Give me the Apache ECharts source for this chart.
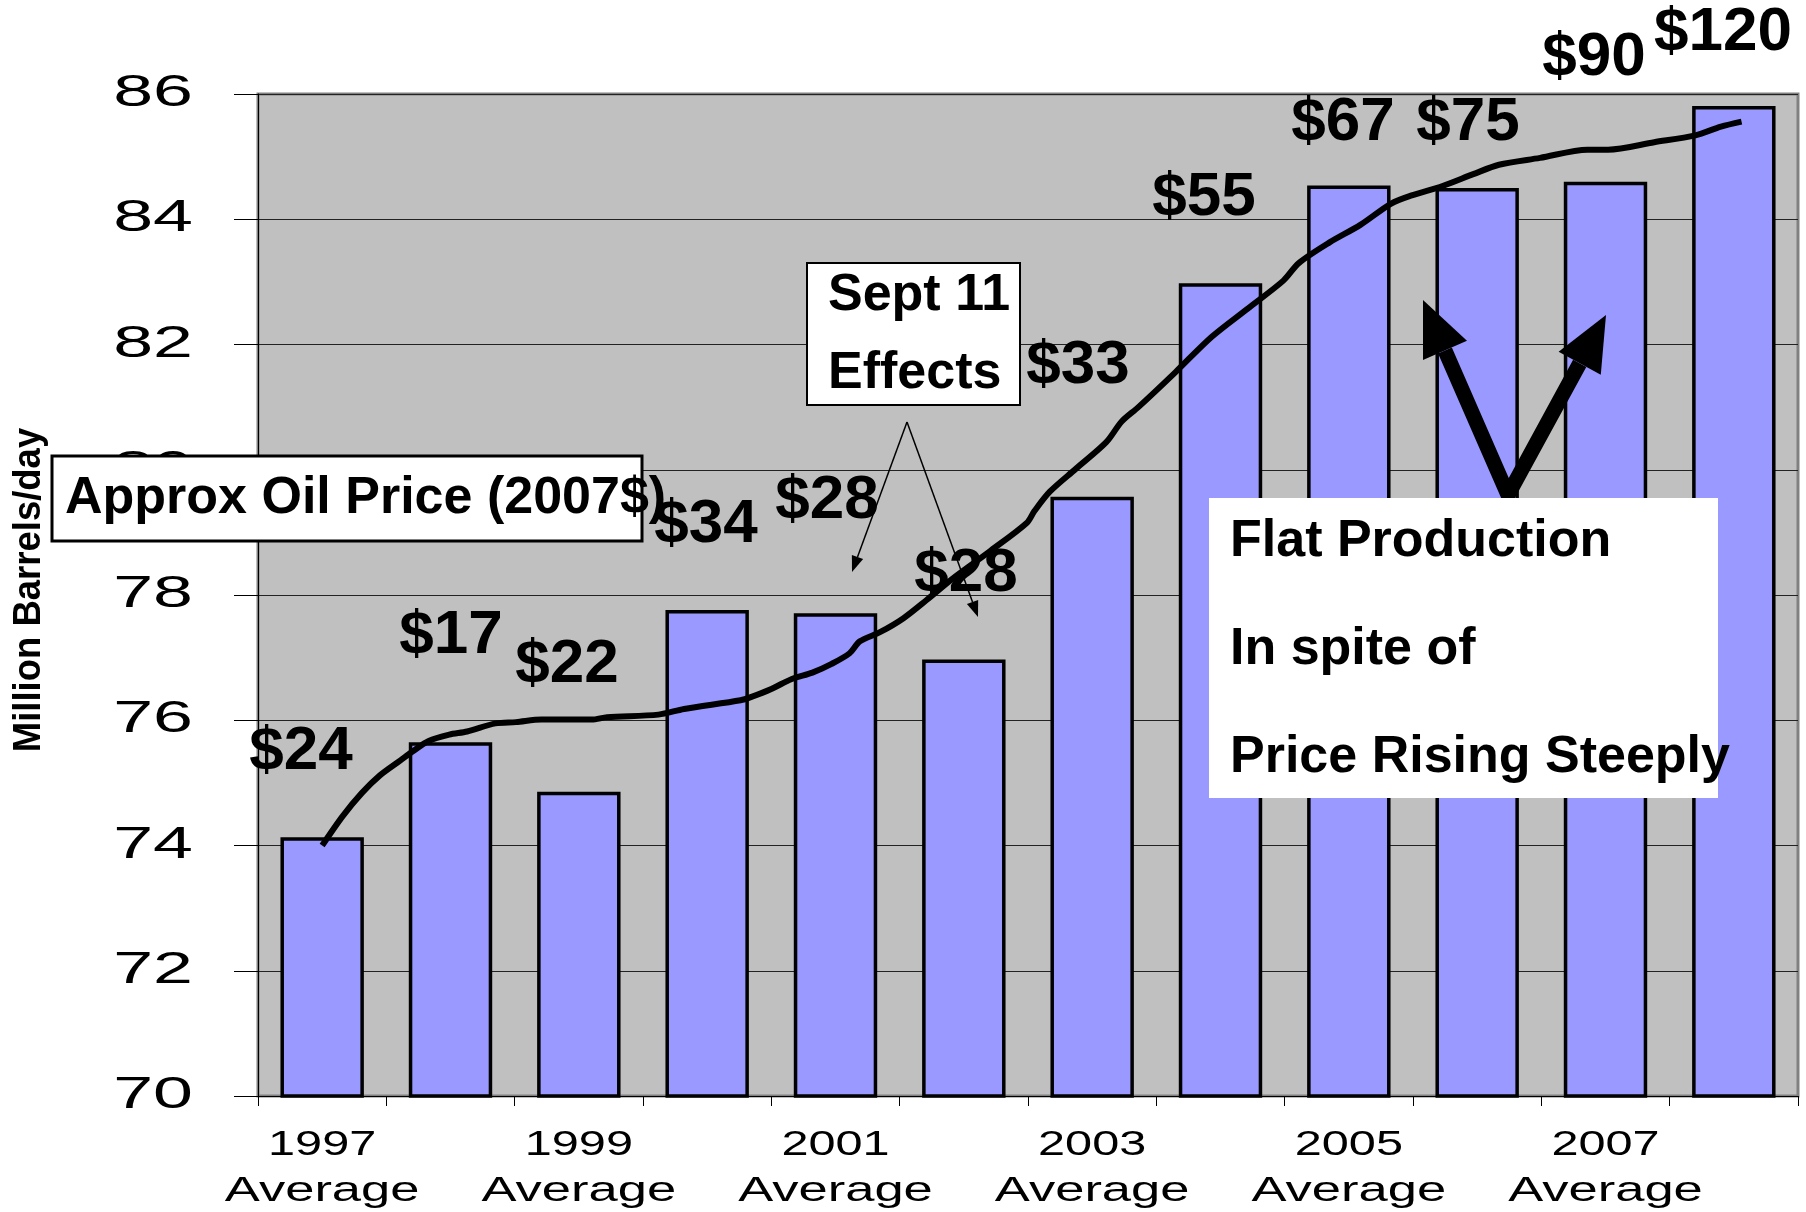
<!DOCTYPE html>
<html>
<head>
<meta charset="utf-8">
<title>World oil production</title>
<script src="https://cdn.jsdelivr.net/npm/echarts@6/dist/echarts.min.js"></script>
<style>
  html, body { margin: 0; padding: 0; background: #fff; }
  #chart { width: 1806px; height: 1212px; }
</style>
</head>
<body>
<div id="chart"></div>
<script>
// yearly averages, million barrels/day
const years = ['1997', '1998', '1999', '2000', '2001', '2002', '2003', '2004', '2005', '2006', '2007', '2008'];
const production = [74.13, 75.65, 74.86, 77.76, 77.71, 76.97, 79.57, 82.98, 84.54, 84.50, 84.60, 85.81];
const prices = ['$24', '$17', '$22', '$34', '$28', '$28', '$33', '$55', '$67', '$75', '$90', '$120'];

// running trend line (position in years from 1997, value)
const trendPos = [0, 0.16, 0.31, 0.45, 0.61, 0.71, 0.83, 0.99, 1.13, 1.35, 1.51, 1.71, 2.10, 2.22, 2.62, 2.82,
  3.26, 3.34, 3.50, 3.66, 3.82, 3.97, 4.11, 4.19, 4.35, 4.53, 4.71, 4.93, 5.21, 5.49, 5.55, 5.67, 5.87,
  6.11, 6.23, 6.36, 6.65, 6.93, 7.21, 7.49, 7.61, 7.85, 8.09, 8.33, 8.49, 8.73, 8.97, 9.17, 9.49, 9.86,
  10.02, 10.38, 10.70, 10.90, 11.06];
const trendVal = [74.0, 74.47, 74.84, 75.12, 75.36, 75.51, 75.67, 75.77, 75.82, 75.95, 75.97, 76.01, 76.01, 76.05, 76.09, 76.18,
  76.32, 76.37, 76.50, 76.66, 76.76, 76.90, 77.07, 77.26, 77.41, 77.63, 77.92, 78.29, 78.71, 79.15, 79.34, 79.65, 80.01,
  80.44, 80.77, 81.0, 81.56, 82.12, 82.57, 83.02, 83.30, 83.63, 83.91, 84.25, 84.38, 84.53, 84.72, 84.87, 84.98, 85.11,
  85.11, 85.23, 85.34, 85.48, 85.56];

const yTicks = [70, 72, 74, 76, 78, 80, 82, 84, 86];
const xTickYears = ['1997', '1999', '2001', '2003', '2005', '2007'];

// where the price labels sit (px)
const priceAt = [[301, 752], [451, 636], [567, 665], [706, 525], [827, 501], [966, 574],
  [1078, 366], [1204, 198], [1343, 123], [1468, 123], [1594, 58], [1723, 33]];

const FONT = '"Liberation Sans", Arial, sans-serif';

const chart = echarts.init(document.getElementById('chart'));

chart.setOption({
  animation: false,
  backgroundColor: '#fff',
  grid: {
    left: 258,
    right: 8,
    top: 94,
    bottom: 116,
    show: true,
    backgroundColor: '#C0C0C0',
    borderColor: '#808080',
    borderWidth: 3
  },
  xAxis: [
    {
      type: 'category',
      data: years,
      axisLine: { onZero: false, lineStyle: { color: '#000', width: 1 } },
      axisTick: { show: true, length: 10, interval: 0, lineStyle: { color: '#000' } },
      axisLabel: { show: false },
      splitLine: { show: false }
    },
    {
      // hidden, only to place the trend line between the bars
      type: 'value',
      min: -0.5,
      max: 11.5,
      show: false
    }
  ],
  yAxis: {
    type: 'value',
    min: 70,
    max: 86,
    interval: 2,
    axisLine: { show: true, onZero: false, lineStyle: { color: '#000', width: 1 } },
    axisTick: { show: true, length: 24, lineStyle: { color: '#000' } },
    axisLabel: { show: false },
    splitLine: { lineStyle: { color: '#222', width: 1 } }
  },
  series: [
    {
      type: 'bar',
      data: production,
      barCategoryGap: '35%',
      itemStyle: { color: '#9999FF', borderColor: '#000', borderWidth: 3.5 },
      z: 2
    },
    {
      type: 'line',
      xAxisIndex: 1,
      data: trendPos.map((p, i) => [p, trendVal[i]]),
      showSymbol: false,
      smooth: 0.3,
      lineStyle: { color: '#000', width: 6 },
      z: 3
    }
  ]
});

// text helper
function txt(text, x, y, size, opts) {
  opts = opts || {};
  const align = opts.align || 'center';
  return {
    type: 'text',
    x: x,
    y: y,
    z: opts.z || 103,
    scaleX: opts.sx || 1,
    rotation: opts.rot || 0,
    style: {
      text: text,
      fill: '#000',
      font: (opts.bold ? 'bold ' : '') + size + 'px ' + FONT,
      align: align,
      textAlign: align,
      verticalAlign: 'middle',
      textVerticalAlign: 'middle'
    }
  };
}

// arrow head triangle at (x2,y2) pointing away from (x1,y1)
function arrowHead(x1, y1, x2, y2, len, wid) {
  const dx = x2 - x1, dy = y2 - y1;
  const d = Math.sqrt(dx * dx + dy * dy);
  const ux = dx / d, uy = dy / d;
  const bx = x2 - ux * len, by = y2 - uy * len;
  return {
    base: [bx, by],
    el: {
      type: 'polygon',
      z: 101,
      shape: { points: [[x2, y2], [bx + uy * wid / 2, by - ux * wid / 2], [bx - uy * wid / 2, by + ux * wid / 2]] },
      style: { fill: '#000' }
    }
  };
}

const g = [];

// stretched axis labels, placed via the axis scales (under the annotation boxes)
yTicks.forEach(v => {
  const y = chart.convertToPixel({ yAxisIndex: 0 }, v);
  g.push(txt(String(v), 193, y, 44, { align: 'right', sx: 1.63, z: 90 }));
});
xTickYears.forEach(yr => {
  const x = chart.convertToPixel({ xAxisIndex: 0 }, years.indexOf(yr));
  g.push(txt(yr, x, 1145, 35, { sx: 1.39, z: 90 }));
  g.push(txt('Average', x, 1191, 35, { sx: 1.5, z: 90 }));
});

// axis title
g.push(txt('Million Barrels/day', 30, 590, 38, { bold: true, rot: Math.PI / 2, sx: 0.96, z: 90 }));

// price labels
prices.forEach((p, i) => {
  g.push(txt(p, priceAt[i][0], priceAt[i][1], 62, { bold: true }));
});

// Approx oil price box
g.push({ type: 'rect', z: 99, shape: { x: 52, y: 456, width: 590, height: 85 }, style: { fill: '#fff', stroke: '#000', lineWidth: 3 } });
g.push(txt('Approx Oil Price (2007$)', 65, 499, 52, { bold: true, align: 'left' }));

// Sept 11 box and thin arrows
g.push({ type: 'rect', z: 99, shape: { x: 807, y: 263, width: 213, height: 142 }, style: { fill: '#fff', stroke: '#000', lineWidth: 2 } });
g.push(txt('Sept 11', 828, 296, 52, { bold: true, align: 'left' }));
g.push(txt('Effects', 828, 374, 52, { bold: true, align: 'left' }));
[[852, 572], [978, 617]].forEach(t => {
  const h = arrowHead(907, 422, t[0], t[1], 16, 12);
  g.push({ type: 'line', z: 100, shape: { x1: 907, y1: 422, x2: h.base[0], y2: h.base[1] }, style: { stroke: '#000', lineWidth: 1.5 } });
  g.push(h.el);
});

// thick V arrows
const vStart = [1508, 495];
const hL = arrowHead(vStart[0], vStart[1], 1423, 300, 55, 48);
const hR = arrowHead(vStart[0], vStart[1], 1606, 315, 55, 48);
g.push({
  type: 'polyline', z: 100,
  shape: { points: [hL.base, vStart, hR.base] },
  style: { stroke: '#000', lineWidth: 15, lineJoin: 'miter', fill: null }
});
g.push(hL.el, hR.el);

// flat production box
g.push({ type: 'rect', z: 102, shape: { x: 1209, y: 498, width: 509, height: 300 }, style: { fill: '#fff' } });
g.push(txt('Flat Production', 1230, 542, 52, { bold: true, align: 'left' }));
g.push(txt('In spite of', 1230, 650, 52, { bold: true, align: 'left' }));
g.push(txt('Price Rising Steeply', 1230, 758, 52, { bold: true, align: 'left' }));

chart.setOption({ graphic: g });
</script>
</body>
</html>
